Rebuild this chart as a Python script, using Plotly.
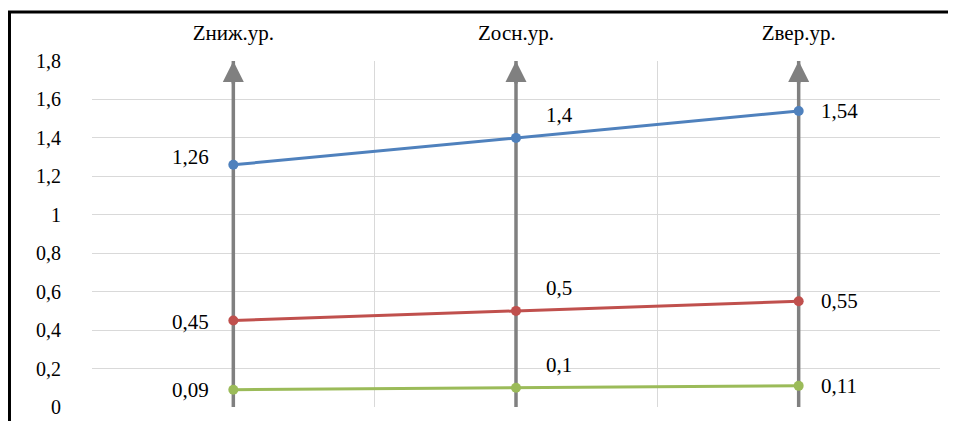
import plotly.graph_objects as go

categories = ["Zниж.ур.", "Zосн.ур.", "Zвер.ур."]
series_top = [1.26, 1.4, 1.54]
series_mid = [0.45, 0.5, 0.55]
series_low = [0.09, 0.1, 0.11]
y_ticks = [0, 0.2, 0.4, 0.6, 0.8, 1.0, 1.2, 1.4, 1.6, 1.8]
y_max = 1.8

colors = ["#4F81BD", "#C0504D", "#9BBB59"]
axis_gray = "#808080"
grid_gray = "#D9D9D9"
font_family = "Liberation Serif, DejaVu Serif, serif"

fig = go.Figure()

# gray vertical axes per category (drawn below the series)
vx, vy = [], []
for c in categories:
    vx += [c, c, None]
    vy += [0, y_max, None]
fig.add_trace(go.Scatter(x=vx, y=vy, mode="lines",
                         line=dict(color=axis_gray, width=3.5),
                         hoverinfo="skip", showlegend=False, cliponaxis=False))

all_series = [series_top, series_mid, series_low]
for vals, col in zip(all_series, colors):
    fig.add_trace(go.Scatter(x=categories, y=vals, mode="lines+markers",
                             line=dict(color=col, width=3),
                             marker=dict(color=col, size=10),
                             showlegend=False, cliponaxis=False))

def fmt(v):
    return ("%g" % v).replace(".", ",")

annotations = []
# label placement style per point: (xanchor, xshift, yshift)
placement = [("right", -22, None), ("left", 28, 23), ("left", 20, 0)]
left_yshift = [8, -1, 0]
for si, vals in enumerate(all_series):
    for pi, (c, v) in enumerate(zip(categories, vals)):
        xa, xs, ys = placement[pi]
        if ys is None:
            ys = left_yshift[si]
        annotations.append(dict(x=c, y=v, text=fmt(v), showarrow=False,
                                xanchor=xa, yanchor="middle", xshift=xs, yshift=ys,
                                font=dict(family=font_family, size=21, color="#000000")))

# arrow heads at the top of each gray axis
for c in categories:
    annotations.append(dict(x=c, y=y_max, ax=0, ay=24, showarrow=True,
                            arrowhead=2, arrowsize=1.2, arrowwidth=3.5,
                            arrowcolor=axis_gray, text="", standoff=0))

fig.update_layout(
    width=948, height=413,
    margin=dict(l=84, r=16, t=53, b=14),
    paper_bgcolor="white", plot_bgcolor="white",
    separators=", ",
    font=dict(family=font_family, size=20, color="#000000"),
    annotations=annotations,
    xaxis=dict(type="category", side="top", tickson="boundaries",
               showgrid=True, gridcolor=grid_gray, gridwidth=1.3,
               showline=False, zeroline=False, ticks="",
               ticklabelstandoff=16, automargin=False,
               tickfont=dict(family=font_family, size=21, color="#000000"),
               range=[-0.5, 2.5]),
    yaxis=dict(range=[0, y_max], tickvals=y_ticks,
               showgrid=True, gridcolor=grid_gray, gridwidth=1.3,
               showline=False, zeroline=False, ticks="",
               ticklabelstandoff=30, automargin=False,
               tickfont=dict(family=font_family, size=20, color="#000000")),
    shapes=[
        dict(type="line", xref="paper", yref="paper", x0=-0.1, x1=1.03,
             y0=1.1416, y1=1.1416, line=dict(color="black", width=3)),
        dict(type="line", xref="paper", yref="paper", x0=-0.0973, x1=-0.0973,
             y0=1.1416, y1=-0.05, line=dict(color="black", width=3)),
    ],
)

fig.write_html("out.html")
